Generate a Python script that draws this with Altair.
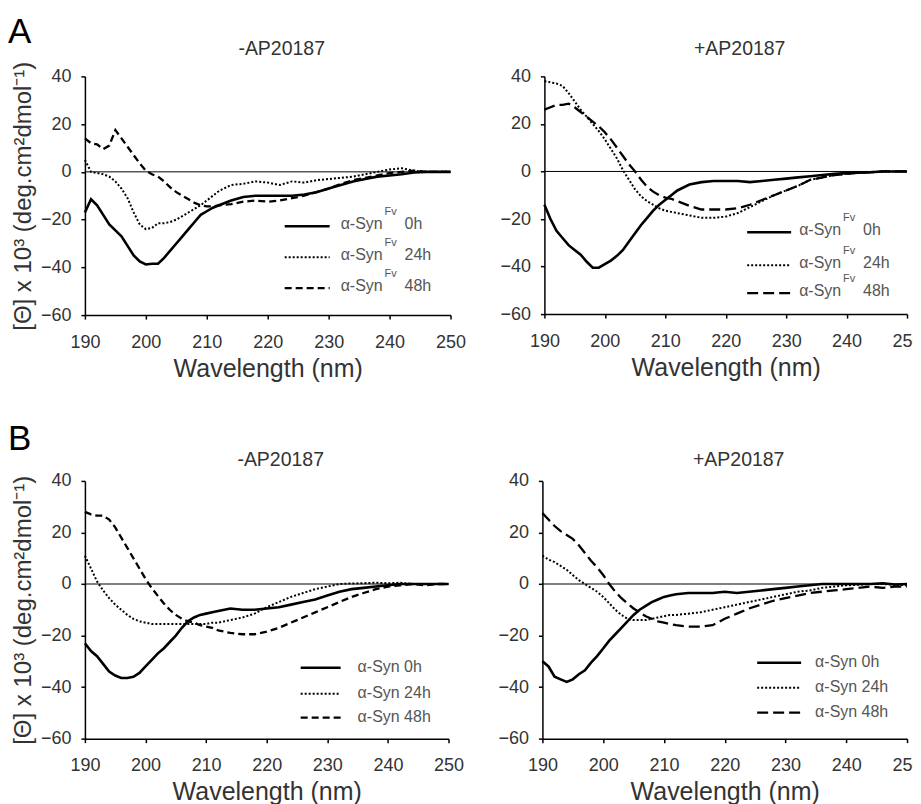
import altair as alt
import pandas as pd

FONT = "Liberation Sans"

WL = [190, 191, 192, 193, 194, 195, 196, 197, 198, 199, 200, 201, 202, 203, 204, 205,
      206, 207, 208, 209, 210, 211, 212, 214, 216, 218, 220, 222, 224, 226, 228, 230,
      232, 234, 236, 238, 240, 242, 244, 246, 248, 250]

# Panel A, -AP20187
AL_0H = [-17, -11.5, -14, -18, -22, -24.5, -27, -31, -35, -37.5, -38.8, -38.5, -38.5, -36, -33, -30,
         -27, -24, -21, -18, -16.5, -15, -14, -12, -10.5, -10, -10, -10, -10, -9.5, -8.5, -7,
         -5.5, -4, -3, -2, -1.5, -1, -0.3, 0, 0, 0]
AL_24H = [5, 0, -0.5, -1, -2, -4, -7, -11, -17, -22, -24, -23.5, -21.5, -21.5, -21, -20,
          -18.5, -17, -15.5, -14, -12, -10, -8, -5.5, -5, -4, -4.5, -5.5, -4, -4.5, -3.5, -3,
          -2.5, -2, -1, 0, 1, 1.5, 0.5, 0, 0, 0]
AL_48H = [14, 12, 11.5, 9.5, 11, 17.5, 14, 10.5, 7, 3.5, 0.5, -1, -2, -4, -6.5, -8.5,
          -10, -11.5, -13, -14, -14.5, -14.5, -14, -13.5, -12.5, -12, -12.5, -12, -11, -10, -8.5, -7,
          -5, -3.5, -2.5, -1.5, -0.5, 0, 0.5, 0, 0, 0]

# Panel A, +AP20187
AR_0H = [-14, -20, -25, -28, -31, -33, -35, -38, -40.5, -40.5, -39, -37.5, -35.5, -33, -29.5, -26,
         -22.5, -19.5, -16.5, -14, -12, -10, -8, -5.5, -4.5, -4, -4, -4, -4.5, -4, -3.5, -3,
         -2.5, -2, -1.5, -1, -0.7, -0.5, -0.3, 0, 0, 0]
AR_24H = [38, 37.5, 37, 36, 33, 29.5, 26, 23, 20, 17, 13.5, 9.5, 5.5, 0.5, -3.5, -7.5,
          -10.5, -12.5, -14, -15.5, -16.5, -17, -17.5, -18.5, -19.5, -19.5, -19, -17.5, -15, -12.5, -10, -8,
          -6, -3.5, -2.5, -1.5, -1, -0.5, -0.3, 0, 0, 0]
AR_48H = [26, 27, 28, 28, 28.5, 27, 25, 23, 21, 19, 16.5, 13.5, 10, 6.5, 3, 0,
          -3.5, -6.5, -8.5, -10, -11, -11.5, -12.5, -14.5, -16, -16, -16, -15.5, -14, -12, -10, -8,
          -6, -3.5, -2.5, -1.5, -1, -0.5, -0.3, 0, 0, 0]

# Panel B, -AP20187
BL_0H = [-23, -26, -28, -31, -34, -35.5, -36.5, -36.5, -36, -34.5, -32, -29.5, -27, -25, -22.5, -20,
         -17, -14.5, -13, -12, -11.5, -11, -10.5, -9.5, -10, -10, -9.5, -9, -8, -7, -6, -4.5,
         -3, -2, -1.5, -1, -0.5, 0, 0, 0, 0, 0]
BL_24H = [11, 6, 1, -2.5, -5.5, -8, -10, -12, -13.5, -14.5, -15, -15.5, -15.5, -15.5, -15.5, -15.5,
          -15.5, -15.5, -15.5, -15.5, -15.5, -15, -15, -14, -13, -11.5, -9, -7, -5, -3.5, -2, -1,
          0, 0.2, 0.3, 0.5, 0.3, 0.5, 0, 0, 0, 0]
BL_48H = [28, 27, 26.5, 26.5, 25, 22, 18, 14, 10, 6, 2, -1.5, -4.5, -7.5, -10, -12,
          -13.5, -14.5, -15, -16, -16.5, -17, -18, -19, -19.5, -19.5, -18.5, -17, -15, -13, -11, -9,
          -7, -5, -3.5, -2, -1, -0.5, 0, -0.5, 0, 0]

# Panel B, +AP20187
BR_0H = [-30, -32, -36, -37, -38, -37, -35, -33.5, -30.5, -28, -25, -22, -19.5, -17, -14.5, -12,
         -10, -8.5, -7, -6, -5, -4.5, -4, -3.5, -3.5, -3.5, -3, -3.5, -3, -2.5, -2, -1.5,
         -1, -0.5, 0, 0, 0, 0, 0, 0.3, -0.2, 0]
BR_24H = [11, 9.5, 8.5, 7, 5.5, 3.5, 1.5, 0, -1.5, -3, -5, -7.5, -10, -12, -13.5, -14,
          -14, -14, -13.5, -13, -12.5, -12, -12, -11.5, -11, -10, -9, -8, -7, -6, -5, -4,
          -3, -2.5, -1.5, -1, -0.5, -0.3, 0, 0, -0.3, -0.5]
BR_48H = [27.5, 25, 22.5, 20.5, 19, 17.5, 15, 12, 9, 6.5, 3.5, 0, -3, -5.5, -7.5, -9.5,
          -11, -12.5, -13.5, -14.5, -15, -15.5, -16, -16.5, -16.5, -16, -13.5, -11.5, -9.5, -8, -6.5, -5.5,
          -4.5, -3.5, -3, -2.5, -2, -1.5, -1, -1.5, -1, -1]

X_TICKS = [190, 200, 210, 220, 230, 240, 250]
Y_TICKS = [-60, -40, -20, 0, 20, 40]
SERIES = ["0h", "24h", "48h"]
Y_TITLE = "[Θ] x 10³ (deg.cm²dmol⁻¹)"
TEXT_COL = "#333333"
LEG_COL = "#555555"


def panel(title, s0, s24, s48, dash48, width, height, ytitle, letter, leg, sup, ty, ly):
    n = len(WL)
    df = pd.DataFrame({
        "wl": WL * 3,
        "val": s0 + s24 + s48,
        "series": [SERIES[0]] * n + [SERIES[1]] * n + [SERIES[2]] * n,
    })
    x = alt.X("wl:Q", scale=alt.Scale(domain=[190, 250], nice=False, zero=False),
              axis=alt.Axis(values=X_TICKS, title="Wavelength (nm)", titleFontSize=25,
                            titlePadding=5, labelPadding=14, labelFlush=False))
    if ytitle:
        yaxis = alt.Axis(values=Y_TICKS, title=Y_TITLE, titleFontSize=24, titlePadding=5,
                         labelPadding=10, labelFlush=False)
    else:
        yaxis = alt.Axis(values=Y_TICKS, title=None, labelPadding=10, labelFlush=False)
    y = alt.Y("val:Q", scale=alt.Scale(domain=[-60, 40], nice=False, zero=False), axis=yaxis)

    base = alt.Chart(df)
    zero = alt.Chart(pd.DataFrame({"z": [0]})).mark_rule(color="black", strokeWidth=1).encode(
        y=alt.Y("z:Q"))
    l0 = base.transform_filter(alt.datum.series == "0h").mark_line(
        color="black", strokeWidth=2.6).encode(x=x, y=y)
    l24 = base.transform_filter(alt.datum.series == "24h").mark_line(
        color="black", strokeWidth=2, strokeDash=[2, 2]).encode(x=x, y=y)
    l48 = base.transform_filter(alt.datum.series == "48h").mark_line(
        color="black", strokeWidth=2.3, strokeDash=dash48).encode(x=x, y=y)

    layers = [zero, l0, l24, l48]
    one = pd.DataFrame({"k": [0]})
    lx1, lx2, tx, ys = leg
    styles = [dict(strokeWidth=2.6), dict(strokeWidth=2, strokeDash=[2, 2]),
              dict(strokeWidth=2.3, strokeDash=dash48)]
    for i, s in enumerate(SERIES):
        yy = ys[i]
        layers.append(alt.Chart(one).mark_rule(color="black", **styles[i]).encode(
            x=alt.value(lx1), x2=alt.value(lx2), y=alt.value(yy)))
        if sup:
            layers.append(alt.Chart(one).mark_text(
                align="left", baseline="middle", fontSize=16, font=FONT, color=LEG_COL).encode(
                x=alt.value(tx), y=alt.value(yy - 2), text=alt.value("α-Syn")))
            layers.append(alt.Chart(one).mark_text(
                align="left", baseline="middle", fontSize=11, font=FONT, color=LEG_COL).encode(
                x=alt.value(tx + 44), y=alt.value(yy - 14), text=alt.value("Fv")))
            layers.append(alt.Chart(one).mark_text(
                align="left", baseline="middle", fontSize=16, font=FONT, color=LEG_COL).encode(
                x=alt.value(tx + 64), y=alt.value(yy - 2), text=alt.value(s)))
        else:
            layers.append(alt.Chart(one).mark_text(
                align="left", baseline="middle", fontSize=16, font=FONT, color=LEG_COL).encode(
                x=alt.value(tx), y=alt.value(yy - 1), text=alt.value("α-Syn " + s)))
    # panel title
    layers.append(alt.Chart(one).mark_text(
        align="center", baseline="alphabetic", fontSize=19.5, font=FONT, color=TEXT_COL).encode(
        x=alt.value(width / 2 + 14), y=alt.value(ty), text=alt.value(title)))
    if letter:
        layers.append(alt.Chart(one).mark_text(
            align="left", baseline="alphabetic", fontSize=35, font=FONT, color="black").encode(
            x=alt.value(-77), y=alt.value(ly), text=alt.value(letter)))

    return alt.layer(*layers).properties(width=width, height=height)


a_left = panel("-AP20187", AL_0H, AL_24H, AL_48H, [7, 4], 366, 239, True, "A",
               (200, 245, 256, [150, 181, 212]), True, -21, -33)
a_right = panel("+AP20187", AR_0H, AR_24H, AR_48H, [11, 5], 363, 238, False, None,
                (203, 247, 255, [156, 189, 217]), True, -21, -33)
b_left = panel("-AP20187", BL_0H, BL_24H, BL_48H, [7, 4], 364, 258, True, "B",
               (216, 256, 273, [187, 213, 237]), False, -15, -31)
b_right = panel("+AP20187", BR_0H, BR_24H, BR_48H, [11, 5], 365, 258, False, None,
                (215, 259, 273, [182, 207, 232]), False, -15, -31)

top = alt.hconcat(a_left, a_right, spacing=33)
bottom = alt.hconcat(b_left, b_right, spacing=33)

chart = alt.vconcat(top, bottom, spacing=41).properties(
    padding={"left": 0, "top": 7, "right": -10, "bottom": 0}
).configure_view(strokeWidth=0).configure_axis(
    grid=False, domainColor="black", domainWidth=1.5, tickColor="black", tickWidth=1.5,
    tickSize=4, labelFont=FONT, labelFontSize=18, labelColor=TEXT_COL,
    titleFont=FONT, titleColor=TEXT_COL, titleFontWeight="normal"
)

chart.save("out.html", embed_options={"renderer": "svg", "actions": False})
